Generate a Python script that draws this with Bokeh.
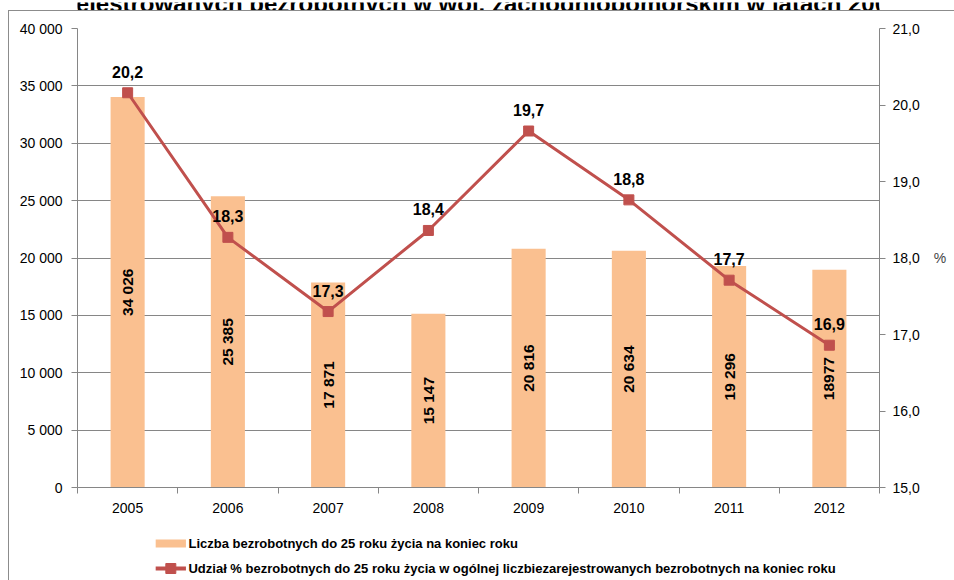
import math
from bokeh.plotting import figure
from bokeh.layouts import column
from bokeh.models import (Range1d, LinearAxis, FixedTicker, CustomJSTickFormatter,
                          ColumnDataSource, InlineStyleSheet)
from bokeh.core.properties import value
from bokeh.embed import file_html
from bokeh.resources import INLINE

# ---- data ----
years = ["2005", "2006", "2007", "2008", "2009", "2010", "2011", "2012"]
counts = [34026, 25385, 17871, 15147, 20816, 20634, 19296, 18977]
count_labels = ["34 026", "25 385", "17 871", "15 147", "20 816", "20 634", "19 296", "18977"]
shares = [20.16, 18.27, 17.30, 18.36, 19.66, 18.76, 17.71, 16.86]
left_ticks = [0, 5000, 10000, 15000, 20000, 25000, 30000, 35000, 40000]
right_ticks = [15, 16, 17, 18, 19, 20, 21]
title_text = "ejestrowanych bezrobotnych w woj. zachodniopomorskim w latach 2005 – 2012"
legend_bar = "Liczba bezrobotnych do 25 roku życia na koniec roku"
legend_line = "Udział % bezrobotnych do 25 roku życia w ogólnej liczbiezarejestrowanych bezrobotnych na koniec roku"

FONT = "Liberation Sans"
GRAY = "#868686"
BAR = "#FAC090"
RED = "#C0504D"

xpos = [i + 0.5 for i in range(len(years))]
src = ColumnDataSource(dict(
    x=xpos, counts=counts, half=[c / 2 for c in counts], clab=count_labels,
    share=shares, slab=[f"{v:.1f}".replace(".", ",") for v in shares],
))

W, H0, H1, H2 = 954, 10, 515, 55


def strip(height, y0):
    f = figure(width=W, height=height, output_backend="svg", toolbar_location=None,
               x_range=Range1d(0, W), y_range=Range1d(y0 + height, y0),
               min_border=0, min_border_left=0, min_border_right=0,
               min_border_top=0, min_border_bottom=0)
    f.axis.visible = False
    f.grid.visible = False
    f.outline_line_color = None
    f.background_fill_color = "white"
    f.border_fill_color = "white"
    return f


# ---- top strip: the title of the page, cut off at the top edge ----
tf = strip(H0, 0)
tf.text(x=[-2], y=[1], text=[title_text], text_align="left", text_baseline="alphabetic",
        text_font=value(FONT), text_font_style="bold", text_font_size="24px",
        text_color="black")

# ---- main chart ----
p = figure(width=W, height=H1, output_backend="svg", toolbar_location=None,
           x_range=Range1d(0, len(years)), y_range=Range1d(0, 40000),
           min_border_left=77, min_border_right=75, min_border_top=18, min_border_bottom=38)
p.outline_line_color = None
p.background_fill_color = "white"
p.border_fill_color = "white"
p.extra_y_ranges = {"pct": Range1d(15, 21)}

p.xgrid.grid_line_color = None
p.ygrid.grid_line_color = GRAY
p.ygrid.grid_line_width = 1
p.ygrid.ticker = FixedTicker(ticks=left_ticks)

xa = p.xaxis[0]
xa.ticker = FixedTicker(ticks=xpos, minor_ticks=list(range(len(years) + 1)))
xa.formatter = CustomJSTickFormatter(args=dict(years=years),
                                     code="return years[Math.floor(tick)];")
xa.axis_line_color = GRAY
xa.major_tick_line_color = None
xa.major_tick_out = 0
xa.minor_tick_line_color = GRAY
xa.minor_tick_out = 6
xa.minor_tick_in = 0
xa.major_label_standoff = 9
xa.major_label_text_font = FONT
xa.major_label_text_font_size = "14px"
xa.major_label_text_color = "black"

ya = p.yaxis[0]
ya.ticker = FixedTicker(ticks=left_ticks)
ya.formatter = CustomJSTickFormatter(code="return tick.toString().replace(/\\B(?=(\\d{3})+(?!\\d))/g, ' ');")
ya.axis_line_color = GRAY
ya.major_tick_line_color = GRAY
ya.major_tick_out = 6
ya.major_tick_in = 0
ya.minor_tick_line_color = None
ya.major_label_standoff = 9
ya.major_label_text_font = FONT
ya.major_label_text_font_size = "14px"
ya.major_label_text_color = "black"

ra = LinearAxis(y_range_name="pct", ticker=FixedTicker(ticks=right_ticks),
                formatter=CustomJSTickFormatter(code="return tick.toFixed(1).replace('.', ',');"))
ra.axis_line_color = GRAY
ra.major_tick_line_color = GRAY
ra.major_tick_out = 6
ra.major_tick_in = 0
ra.minor_tick_line_color = None
ra.major_label_standoff = 7
ra.major_label_text_font = FONT
ra.major_label_text_font_size = "14px"
ra.major_label_text_color = "black"
ra.axis_label = "%"
ra.axis_label_orientation = "horizontal"
ra.axis_label_text_font = FONT
ra.axis_label_text_font_style = "normal"
ra.axis_label_text_font_size = "14px"
ra.axis_label_standoff = 11
p.add_layout(ra, "right")

p.vbar(x="x", top="counts", width=0.34, source=src, fill_color=BAR, line_color=None)
p.text(x="x", y="half", text="clab", source=src, angle=math.pi / 2,
       text_align="center", text_baseline="middle", text_font=value(FONT),
       text_font_style="bold", text_font_size="15.5px", text_color="black")

p.line(x="x", y="share", source=src, y_range_name="pct", line_color=RED, line_width=3)
p.scatter(x="x", y="share", source=src, y_range_name="pct", marker="square", size=10,
          fill_color=RED, line_color=RED)
p.text(x="x", y="share", text="slab", source=src, y_range_name="pct", y_offset=-21,
       text_align="center", text_baseline="middle", text_font=value(FONT),
       text_font_style="bold", text_font_size="16px", text_color="black")

# ---- legend strip (pixel coordinates of the page) ----
lf = strip(H2, H0 + H1)
row1, row2 = 543, 568
lf.rect(x=[111], y=[row1], width=36, height=8, fill_color=BAR, line_color=None)
lf.line(x=[93, 129], y=[row2, row2], line_color=RED, line_width=4)
lf.scatter(x=[111], y=[row2], marker="square", size=10, fill_color=RED, line_color=RED)
lf.text(x=[132, 132], y=[row1, row2], text=[legend_bar, legend_line],
        text_align="left", text_baseline="middle", text_font=value(FONT),
        text_font_style="bold", text_font_size="13px", text_color="black")

layout = column(tf, p, lf, spacing=0)
layout.stylesheets = [InlineStyleSheet(css=(
    ":host::after { content: ''; position: absolute; left: 8px; top: 10px; right: 0; bottom: 0;"
    " border-left: 1px solid #8c8c8c; border-top: 1px solid #8c8c8c;"
    " pointer-events: none; z-index: 100; }"))]

open("out.html", "w").write(file_html(layout, INLINE))
